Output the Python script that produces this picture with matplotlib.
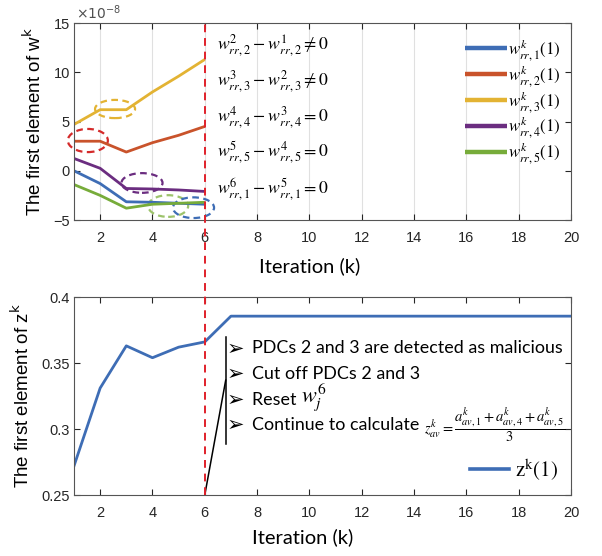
import matplotlib
matplotlib.use("Agg")
import matplotlib.pyplot as plt
from matplotlib.patches import Ellipse
from matplotlib.lines import Line2D

plt.rcParams['mathtext.fontset'] = 'stix'
plt.rcParams['font.family'] = ['Liberation Sans', 'DejaVu Sans']

# ---------------- data ----------------
k_top = [1, 2, 3, 4, 5, 6]
w1 = [0.0, -1.3, -3.15, -3.2, -3.3, -3.4]
w2 = [3.0, 3.0, 1.9, 2.85, 3.6, 4.5]
w3 = [4.7, 6.2, 6.2, 8.0, 9.6, 11.3]
w4 = [1.25, 0.25, -1.8, -1.85, -1.95, -2.1]
w5 = [-1.4, -2.5, -3.8, -3.4, -3.3, -3.2]
w_labels = [r'$w_{rr,1}^{k}(1)$', r'$w_{rr,2}^{k}(1)$', r'$w_{rr,3}^{k}(1)$',
            r'$w_{rr,4}^{k}(1)$', r'$w_{rr,5}^{k}(1)$']

k_bot = list(range(1, 21))
z = [0.272, 0.331, 0.363, 0.354, 0.362, 0.366, 0.3855, 0.3855, 0.3855, 0.3855,
     0.3855, 0.3855, 0.3855, 0.3855, 0.3855, 0.3855, 0.3855, 0.3855, 0.3855, 0.3855]

cond_texts = [r'$w_{rr,2}^{2}-w_{rr,2}^{1}\neq 0$',
              r'$w_{rr,3}^{3}-w_{rr,3}^{2}\neq 0$',
              r'$w_{rr,4}^{4}-w_{rr,4}^{3}=0$',
              r'$w_{rr,5}^{5}-w_{rr,5}^{4}=0$',
              r'$w_{rr,1}^{6}-w_{rr,1}^{5}=0$']
cond_y = [12.66, 9.0, 5.35, 1.8, -1.95]

# ellipses: (x, y, width, height)
ell_centers = [(2.57, 6.27), (1.53, 3.07), (3.6, -1.24), (4.6, -3.58), (5.57, -3.75)]
ell_sizes = [(1.53, 1.85), (1.53, 2.35), (1.57, 2.0), (1.53, 2.2), (1.57, 2.1)]

bullets = ['PDCs 2 and 3 are detected as malicious',
           'Cut off PDCs 2 and 3',
           'Reset ',
           'Continue to calculate ']
bullet_math = [None, None, r'$w_{j}^{6}$',
               r'$z_{av}^{k}=\dfrac{a_{av,1}^{k}+a_{av,4}^{k}+a_{av,5}^{k}}{3}$']
bullet_y = [0.361, 0.342, 0.322, 0.303]

x_ticks = list(range(2, 21, 2))
attack_k = 6

# ---------------- style ----------------
colors = ['#3E6DB5', '#C9532B', '#E3B333', '#6B2D80', '#77AC3A']
ell_colors = ['#E3B333', '#D42A2A', '#6B2D80', '#9DC36B', '#3E6DB5']
gray = '#262626'
txt_font = ['Lato', 'DejaVu Sans']

fig = plt.figure(figsize=(6.02, 5.56), dpi=100)
ax1 = fig.add_axes([0.1229, 0.6043, 0.8256, 0.3543])
ax2 = fig.add_axes([0.1229, 0.1097, 0.8256, 0.3561])

series = [w1, w2, w3, w4, w5]
handles = []
for s, c, lab in zip(series, colors, w_labels):
    h, = ax1.plot(k_top, s, color=c, lw=2.0, label=lab, solid_capstyle='butt')
    handles.append(h)

for (cx, cy), (ew, eh), ec in zip(ell_centers, ell_sizes, ell_colors):
    ax1.add_patch(Ellipse((cx, cy), ew, eh, fill=False, ls=(0, (3, 2)), lw=1.6,
                          edgecolor=ec, clip_on=False))

for t, yv in zip(cond_texts, cond_y):
    ax1.text(6.45, yv, t, fontsize=12.8, va='center', ha='left', color='black')

ax1.set_xlim(1, 20)
ax1.set_ylim(-5, 15)
ax1.set_xticks(x_ticks)
ax1.set_yticks([-5, 0, 5, 10, 15])
ax1.grid(axis='x', color='#e0e0e0', lw=0.8)
ax1.set_axisbelow(True)

leg = ax1.legend(handles=handles, loc='upper right', bbox_to_anchor=(1.0, 0.98),
                 frameon=False, fontsize=12.2, handlelength=2.5, handletextpad=0.05,
                 labelspacing=0.0, borderaxespad=0.2)
for l in leg.get_lines():
    l.set_linewidth(3.2)

ax1.text(0.005, 1.005, r'$\times10^{-8}$', transform=ax1.transAxes, fontsize=10,
         color='#505050', ha='left', va='bottom', math_fontfamily='dejavusans')
ax1.set_ylabel(r'The first element of w$^{\mathrm{k}}$', fontsize=13.5, color='black',
               math_fontfamily='dejavusans', labelpad=6)
ax1.set_xlabel('Iteration (k)', fontsize=14.5, family=txt_font, labelpad=7)
ax1.xaxis.set_label_coords(0.475, -0.19)

# bottom
ax2.plot(k_bot, z, color=colors[0], lw=2.0, label=r'$\mathrm{z}^{\mathrm{k}}(1)$')
ax2.set_xlim(1, 20)
ax2.set_ylim(0.25, 0.4)
ax2.set_xticks(x_ticks)
ax2.set_yticks([0.25, 0.3, 0.35, 0.4])
ax2.set_yticklabels(['0.25', '0.3', '0.35', '0.4'])
leg2 = ax2.legend(loc='lower right', bbox_to_anchor=(1.0, 0.0), frameon=False, fontsize=15,
                  handlelength=1.9, handletextpad=0.3, borderaxespad=0.2)
for l in leg2.get_lines():
    l.set_linewidth(2.6)
ax2.set_ylabel(r'The first element of z$^{\mathrm{k}}$', fontsize=13.5,
               math_fontfamily='dejavusans', labelpad=6)
ax2.set_xlabel('Iteration (k)', fontsize=14.5, family=txt_font)
ax2.xaxis.set_label_coords(0.46, -0.17)

# annotation line and bracket
ax2.plot([attack_k, 6.8], [0.25, 0.337], color='black', lw=1.1, clip_on=False)
ax2.plot([6.8, 6.8], [0.289, 0.37], color='black', lw=1.1)
for t, m, yv in zip(bullets, bullet_math, bullet_y):
    ax2.text(6.85, yv, '\u27a2', fontsize=15, va='center', ha='left', family=['DejaVu Sans'])
    tt = ax2.text(7.8, yv, t, fontsize=12.9, va='center', ha='left', family=txt_font)
    if m is not None:
        fs = 16 if m.startswith(r'$w') else 10.5
        ax2.annotate(m, xy=(1, 0.5), xycoords=tt, xytext=(0, 2 if fs == 16 else 0),
                     textcoords='offset points', fontsize=fs, va='center', ha='left')

for ax in (ax1, ax2):
    ax.tick_params(direction='in', top=True, right=True, length=4, labelsize=10.5,
                   colors=gray)
    ax.tick_params(axis='x', pad=8)
    ax.tick_params(axis='y', pad=3)
    for sp in ax.spines.values():
        sp.set_color('#555555')
        sp.set_linewidth(0.8)

# red dashed vertical line across both panels
p1 = ax1.get_position()
p2 = ax2.get_position()
fx = p1.x0 + (attack_k - 1) / 19 * p1.width
fig.add_artist(Line2D([fx, fx], [p2.y0, p1.y1], transform=fig.transFigure,
                      color='#E0202A', ls=(0, (4, 3)), lw=1.4))

fig.savefig('out.png', dpi=100)
